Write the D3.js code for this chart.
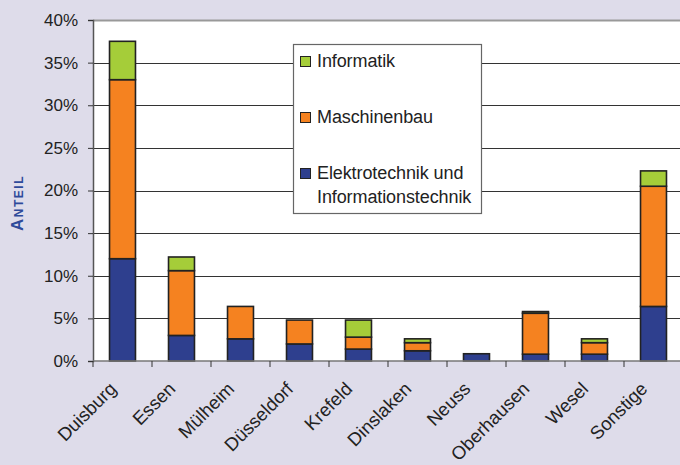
<!DOCTYPE html>
<html>
<head>
<meta charset="utf-8">
<script src="https://cdn.jsdelivr.net/npm/d3@7"></script>
<style>
  body { margin: 0; background: #dedcea; }
  svg { display: block; font-family: "Liberation Sans", Arial, sans-serif; }
</style>
</head>
<body>
<div id="chart"></div>
<script>
// categories and series (percent)
var cities = ["Duisburg", "Essen", "Mülheim", "Düsseldorf", "Krefeld", "Dinslaken", "Neuss", "Oberhausen", "Wesel", "Sonstige"];
var elektro = [12.0, 3.0, 2.6, 2.0, 1.4, 1.2, 0.85, 0.8, 0.8, 6.4];
var maschinenbau = [21.0, 7.6, 3.8, 2.8, 1.4, 0.95, 0, 4.8, 1.35, 14.1];
var informatik = [4.5, 1.6, 0, 0, 2.0, 0.45, 0, 0.2, 0.45, 1.8];
var yTicks = [0, 5, 10, 15, 20, 25, 30, 35, 40];

var seriesNames = ["Elektrotechnik und Informationstechnik", "Maschinenbau", "Informatik"];
var colors = ["#2e3f8e", "#f58220", "#a5cd39"];

var width = 680, height = 465;
var margin = { top: 20, right: -3, bottom: 104, left: 93 };

var svg = d3.select("#chart").append("svg")
    .attr("width", width)
    .attr("height", height);

svg.append("rect").attr("width", width).attr("height", height).attr("fill", "#dedcea");

var x = d3.scaleBand()
    .domain(cities)
    .range([margin.left, width - margin.right])
    .paddingInner(0.56).paddingOuter(0.28);

var y = d3.scaleLinear()
    .domain([0, 40])
    .range([height - margin.bottom, margin.top]);

// plot area
svg.append("rect")
    .attr("x", margin.left).attr("y", margin.top)
    .attr("width", width - margin.right - margin.left)
    .attr("height", y(0) - margin.top)
    .attr("fill", "#fff");

// grid lines
svg.selectAll(".grid")
    .data(yTicks.slice(1))
    .enter().append("line")
    .attr("x1", margin.left).attr("x2", width)
    .attr("y1", function(d) { return Math.round(y(d)) + 0.5; })
    .attr("y2", function(d) { return Math.round(y(d)) + 0.5; })
    .attr("stroke", function(d) { return d == 40 ? "#999" : "#333"; })
    .attr("stroke-width", function(d) { return d == 40 ? 2 : 1.2; });

// stacked data
var table = cities.map(function(c, i) {
    return { city: c, e: elektro[i], m: maschinenbau[i], inf: informatik[i] };
});
var stack = d3.stack().keys(["e", "m", "inf"]);
var layers = stack(table);

svg.selectAll(".layer")
    .data(layers)
    .enter().append("g")
    .attr("fill", function(d, i) { return colors[i]; })
    .selectAll("rect")
    .data(function(d) { return d.filter(function(p) { return p[1] - p[0] > 0; }); })
    .enter().append("rect")
    .attr("x", function(d) { return x(d.data.city); })
    .attr("width", x.bandwidth())
    .attr("y", function(d) { return y(d[1]); })
    .attr("height", function(d) { return y(d[0]) - y(d[1]); })
    .attr("stroke", "#222")
    .attr("stroke-width", 1.6);

// y axis
var yAxis = svg.append("g")
    .attr("transform", "translate(" + margin.left + ",0)")
    .call(d3.axisLeft(y).tickValues(yTicks).tickSize(5).tickPadding(10)
        .tickFormat(function(d) { return d + "%"; }));
yAxis.select(".domain").attr("stroke", "#555").attr("stroke-width", 1.5);
yAxis.selectAll(".tick line").attr("stroke", "#333");
yAxis.selectAll("text").attr("font-size", 17).attr("fill", "#222")
    .attr("font-family", "Liberation Sans, Arial, sans-serif");

// x axis with ticks between categories
var step = x.step();
var boundaries = d3.range(cities.length).map(function(i) { return margin.left + i * step; });
svg.append("line")
    .attr("x1", margin.left).attr("x2", width)
    .attr("y1", y(0)).attr("y2", y(0))
    .attr("stroke", "#777").attr("stroke-width", 1.5);
svg.selectAll(".xtick")
    .data(boundaries)
    .enter().append("line")
    .attr("x1", function(d) { return d; }).attr("x2", function(d) { return d; })
    .attr("y1", y(0)).attr("y2", y(0) + 6)
    .attr("stroke", "#333");

svg.selectAll(".xlabel")
    .data(cities)
    .enter().append("text")
    .attr("transform", function(d) {
        return "translate(" + (x(d) + x.bandwidth() / 2 - 5) + "," + (y(0) + 29) + ") rotate(-45)";
    })
    .attr("text-anchor", "end")
    .attr("font-size", 18.5)
    .attr("fill", "#222")
    .text(function(d) { return d; });

// y axis title in small caps
var yTitle = svg.append("text")
    .attr("transform", "translate(23," + 203 + ") rotate(-90)")
    .attr("text-anchor", "middle")
    .attr("fill", "#2e4a9a")
    .attr("font-weight", "bold")
    .attr("letter-spacing", 1.5);
yTitle.append("tspan").attr("font-size", 17).text("A");
yTitle.append("tspan").attr("font-size", 12).text("NTEIL");

// legend
var legend = svg.append("g");
legend.append("rect")
    .attr("x", 293.5).attr("y", 44.5)
    .attr("width", 188).attr("height", 169)
    .attr("fill", "#fff").attr("stroke", "#666").attr("stroke-width", 1.2);

var legendItems = [
    { name: "Informatik", color: colors[2], lines: ["Informatik"], y: 61 },
    { name: "Maschinenbau", color: colors[1], lines: ["Maschinenbau"], y: 117 },
    { name: seriesNames[0], color: colors[0], lines: ["Elektrotechnik und", "Informationstechnik"], y: 173 }
];
var li = legend.selectAll(".item")
    .data(legendItems)
    .enter().append("g");
li.append("rect")
    .attr("x", 300.5).attr("y", function(d) { return d.y - 4.5; })
    .attr("width", 10).attr("height", 10)
    .attr("fill", function(d) { return d.color; })
    .attr("stroke", "#222").attr("stroke-width", 1);
li.append("text")
    .attr("x", 317)
    .attr("y", function(d) { return d.y + 6; })
    .attr("font-size", 18)
    .attr("fill", "#222")
    .attr("letter-spacing", -0.1)
    .selectAll("tspan")
    .data(function(d) { return d.lines; })
    .enter().append("tspan")
    .attr("x", 317)
    .attr("dy", function(d, i) { return i ? 24 : 0; })
    .text(function(d) { return d; });
</script>
</body>
</html>
